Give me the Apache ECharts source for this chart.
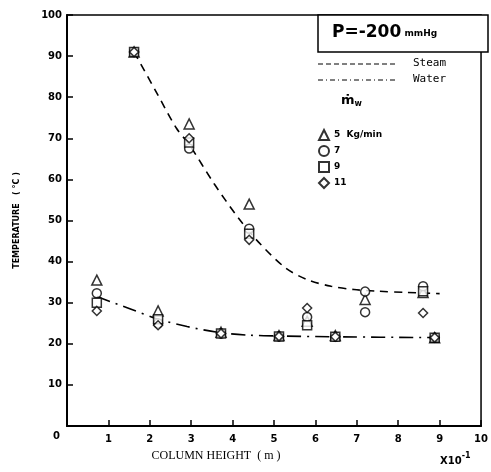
<!DOCTYPE html>
<html>
<head>
<meta charset="utf-8">
<script src="https://cdn.jsdelivr.net/npm/echarts@6/dist/echarts.min.js"></script>
<style>
  html, body { margin: 0; padding: 0; background: #fff; }
  #chart { width: 491px; height: 472px; }
</style>
</head>
<body>
<div id="chart"></div>
<script>
// mass flow of water (legend names) and their symbols
var flows = ['5  Kg/min', '7', '9', '11'];
var symbols = ['triangle', 'circle', 'rect', 'diamond'];

// measured points [column height (x10^-1 m), temperature °C]
var pts5 = [[0.72,35.5],[1.62,91],[2.2,28],[2.95,73.5],[3.72,22.8],[4.4,54],[5.12,22],[5.8,25.5],[6.48,22],[7.2,30.8],[8.6,32.5],[8.88,21.5]];
var pts7 = [[0.72,32.3],[1.62,91],[2.2,25],[2.95,67.5],[3.72,22.5],[4.4,48],[5.12,21.8],[5.8,26.5],[6.48,21.7],[7.2,32.7],[7.2,27.7],[8.6,34],[8.88,21.5]];
var pts9 = [[0.72,30],[1.62,91],[2.2,26],[2.95,69],[3.72,22.5],[4.4,46.8],[5.12,21.8],[5.8,24.5],[6.48,21.7],[8.6,32.8],[8.88,21.5]];
var pts11 = [[0.72,28],[1.62,91],[2.2,24.5],[2.95,70],[3.72,22.5],[4.4,45.3],[5.12,21.8],[5.8,28.7],[6.48,21.7],[8.6,27.5],[8.88,21.5]];

// fitted curves
var steamCurve = [[1.62,91],[2.17,81],[2.64,72.5],[2.95,68.5],[3.55,59],[4.14,50.6],[4.62,44.8],[5.26,38.6],[5.8,35.6],[6.38,34],[6.93,33.2],[7.5,32.8],[8.2,32.5],[9.0,32.2]];
var waterCurve = [[0.72,31.5],[1.5,28.6],[2.2,26],[2.9,24.2],[3.7,22.7],[4.4,22.1],[5.1,21.9],[6.5,21.7],[9.0,21.5]];

var xTicks = [0,1,2,3,4,5,6,7,8,9,10];
var yTicks = [0,10,20,30,40,50,60,70,80,90,100];

var myChart = echarts.init(document.getElementById('chart'));

var allPts = [pts5, pts7, pts9, pts11];
var series = [
  {
    name: 'Steam', type: 'line', data: steamCurve, smooth: 0.3,
    showSymbol: false, silent: true, z: 1,
    lineStyle: { color: '#000', width: 1.6, type: [8, 6] }
  },
  {
    name: 'Water', type: 'line', data: waterCurve, smooth: 0.3,
    showSymbol: false, silent: true, z: 1,
    lineStyle: { color: '#000', width: 1.6, type: [14, 6, 2, 6] }
  }
];
for (var i = 0; i < flows.length; i++) {
  series.push({
    name: flows[i],
    type: 'scatter',
    symbol: symbols[i],
    symbolSize: symbols[i] == 'triangle' ? 10 : 9,
    data: allPts[i],
    z: 2 + i,
    itemStyle: { color: '#fff', borderColor: '#000', borderWidth: 1.5 }
  });
}

var labelFont = { color: '#000', fontFamily: 'DejaVu Sans', fontWeight: 'bold', fontSize: 10 };

myChart.setOption({
  animation: false,
  backgroundColor: '#fff',
  grid: {
    left: 67, right: 3, top: 15, bottom: 46,
    show: true, borderColor: '#000', borderWidth: 1.5
  },
  legend: {
    data: flows,
    orient: 'vertical',
    left: 313, top: 124,
    itemWidth: 10, itemHeight: 10, itemGap: 4,
    textStyle: { color: '#000', fontFamily: 'DejaVu Sans', fontWeight: 'bold', fontSize: 9 }
  },
  xAxis: {
    type: 'value', min: 0, max: 10, interval: 1,
    name: 'COLUMN HEIGHT  ( m )',
    nameLocation: 'middle', nameGap: 24,
    nameTextStyle: { color: '#000', fontFamily: 'Liberation Serif', fontSize: 12, padding: [0, 116, 0, 0] },
    axisLine: { lineStyle: { color: '#000', width: 2 } },
    axisTick: { inside: true, length: 6, lineStyle: { color: '#000', width: 1.5 } },
    axisLabel: Object.assign({ margin: 8, formatter: function (v) { return v === 0 ? '' : v; } }, labelFont),
    splitLine: { show: false }
  },
  yAxis: {
    type: 'value', min: 0, max: 100, interval: 10,
    name: 'TEMPERATURE   ( °C )',
    nameLocation: 'middle', nameGap: 46, nameRotate: 90,
    nameTextStyle: { color: '#000', fontFamily: 'DejaVu Sans', fontWeight: 'bold', fontSize: 8 },
    axisLine: { lineStyle: { color: '#000', width: 2 } },
    axisTick: { inside: true, length: 6, lineStyle: { color: '#000', width: 1.5 } },
    axisLabel: Object.assign({ margin: 5, formatter: function (v) { return v === 0 ? '' : v; } }, labelFont),
    splitLine: { show: false }
  },
  graphic: [
    { type: 'text', left: 53, top: 431, style: { text: '0', fill: '#000', font: 'bold 10px DejaVu Sans' } },
    { type: 'text', left: 440, top: 452, style: {
        text: '{a|X10}{b|-1}', fill: '#000',
        rich: { a: { font: 'bold 10px DejaVu Sans', padding: [4, 0, 0, 0] }, b: { font: 'bold 8px DejaVu Sans', verticalAlign: 'top' } }
    } },
    { type: 'rect', shape: { x: 318, y: 15, width: 170, height: 37 }, style: { fill: '#fff', stroke: '#000', lineWidth: 1.5 }, z: 10 },
    { type: 'text', left: 332, top: 24, z: 11, style: {
        text: '{a|P=-200}{b| mmHg}', fill: '#000',
        rich: { a: { font: 'bold 17px DejaVu Sans' }, b: { font: 'bold 9px DejaVu Sans', padding: [3, 0, 0, 0] } }
    } },
    { type: 'line', shape: { x1: 318, y1: 64, x2: 398, y2: 64 }, style: { stroke: '#000', lineWidth: 1, lineDash: [5, 3] } },
    { type: 'text', left: 413, top: 58, style: { text: 'Steam', fill: '#000', font: '11px DejaVu Sans Mono' } },
    { type: 'line', shape: { x1: 318, y1: 80, x2: 398, y2: 80 }, style: { stroke: '#000', lineWidth: 1, lineDash: [5, 3, 1, 3] } },
    { type: 'text', left: 413, top: 74, style: { text: 'Water', fill: '#000', font: '11px DejaVu Sans Mono' } },
    { type: 'text', left: 341, top: 94, style: {
        text: '{m|ṁ}{w|w}', fill: '#000',
        rich: { m: { font: 'bold 13px DejaVu Sans' }, w: { font: 'bold 8px DejaVu Sans', padding: [6, 0, 0, 0] } }
    } }
  ],
  series: series
});
</script>
</body>
</html>
